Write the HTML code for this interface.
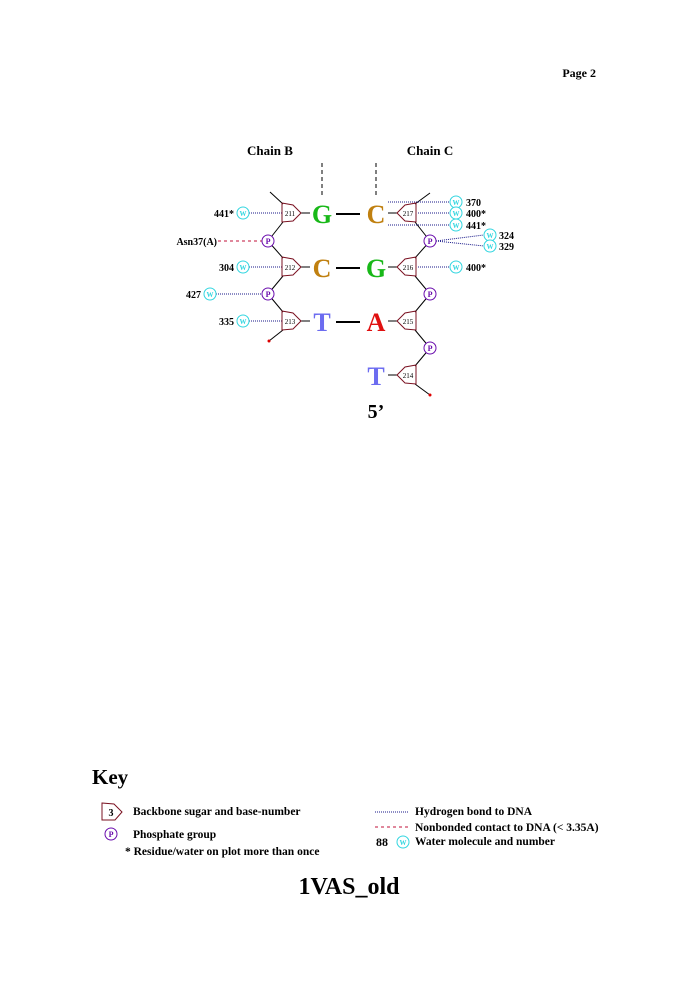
<!DOCTYPE html>
<html><head><meta charset="utf-8"><style>
body{margin:0;background:#fff;}
svg{display:block;font-family:"Liberation Serif",serif;font-weight:bold;}
</style></head><body>
<svg width="694" height="982" viewBox="0 0 694 982" xmlns="http://www.w3.org/2000/svg">
<defs>
<g id="pr"><polygon points="-8,-10 3,-8 11,0 3,8 -8,9" fill="none" stroke="#7a1020" stroke-width="1"/></g>
<g id="pl"><polygon points="8,-10 -3,-8 -11,0 -3,8 8,9" fill="none" stroke="#7a1020" stroke-width="1"/></g>
<g id="ph"><circle r="6" fill="#fff" stroke="#6a0dad" stroke-width="1"/><text y="3" font-size="8" text-anchor="middle" fill="#6a0dad">P</text></g>
<g id="w"><circle r="6" fill="#fff" stroke="#33d6e0" stroke-width="1"/><text y="3" font-size="7" text-anchor="middle" fill="#33d6e0">W</text></g>
</defs>
<text x="596" y="77" font-size="12" text-anchor="end">Page 2</text>
<text x="270" y="155" font-size="13" text-anchor="middle">Chain B</text>
<text x="430" y="155" font-size="13" text-anchor="middle">Chain C</text>
<g stroke="#000" stroke-dasharray="4,3"><line x1="322" y1="163" x2="322" y2="195"/><line x1="376" y1="163" x2="376" y2="195"/></g>
<g stroke="#000" stroke-width="1" fill="none">
<line x1="270" y1="192" x2="283" y2="204"/>
<line x1="283" y1="222" x2="268" y2="241"/><line x1="268" y1="241" x2="283" y2="258"/>
<line x1="283" y1="276" x2="268" y2="294"/><line x1="268" y1="294" x2="283" y2="312"/>
<line x1="283" y1="330" x2="269" y2="341"/>
<line x1="430" y1="193" x2="415" y2="204"/>
<line x1="415" y1="222" x2="430" y2="241"/><line x1="430" y1="241" x2="415" y2="258"/>
<line x1="415" y1="276" x2="430" y2="294"/><line x1="430" y1="294" x2="415" y2="312"/>
<line x1="415" y1="330" x2="430" y2="348"/><line x1="430" y1="348" x2="415" y2="366"/>
<line x1="415" y1="384" x2="430" y2="395"/>
<line x1="301" y1="213" x2="310" y2="213"/><line x1="301" y1="267" x2="310" y2="267"/><line x1="301" y1="321" x2="310" y2="321"/>
<line x1="397" y1="213" x2="388" y2="213"/><line x1="397" y1="267" x2="388" y2="267"/><line x1="397" y1="321" x2="388" y2="321"/><line x1="397" y1="375" x2="388" y2="375"/>
</g>
<g stroke="#000" stroke-width="2"><line x1="336" y1="214" x2="360" y2="214"/><line x1="336" y1="268" x2="360" y2="268"/><line x1="336" y1="322" x2="360" y2="322"/></g>
<circle cx="269" cy="341" r="1.5" fill="#d00"/><circle cx="430" cy="395" r="1.5" fill="#d00"/>
<g stroke="#1a1a8a" stroke-dasharray="1,1" stroke-width="1">
<line x1="249" y1="213" x2="282" y2="213"/><line x1="249" y1="267" x2="282" y2="267"/>
<line x1="216" y1="294" x2="262" y2="294"/><line x1="249" y1="321" x2="282" y2="321"/>
<line x1="388" y1="202" x2="450" y2="202"/><line x1="418" y1="213" x2="450" y2="213"/><line x1="388" y1="225" x2="450" y2="225"/>
<line x1="436" y1="241" x2="484" y2="235"/><line x1="436" y1="241" x2="484" y2="246"/>
<line x1="418" y1="267" x2="450" y2="267"/>
</g>
<line x1="218" y1="241" x2="262" y2="241" stroke="#c0103a" stroke-dasharray="3,3"/>
<g font-size="7" text-anchor="middle" font-weight="normal">
<use href="#pr" x="290" y="213"/><text x="290" y="216">211</text>
<use href="#pr" x="290" y="267"/><text x="290" y="270">212</text>
<use href="#pr" x="290" y="321"/><text x="290" y="324">213</text>
<use href="#pl" x="408" y="213"/><text x="408" y="216">217</text>
<use href="#pl" x="408" y="267"/><text x="408" y="270">216</text>
<use href="#pl" x="408" y="321"/><text x="408" y="324">215</text>
<use href="#pl" x="408" y="375"/><text x="408" y="378">214</text>
</g>
<use href="#ph" x="268" y="241"/><use href="#ph" x="268" y="294"/>
<use href="#ph" x="430" y="241"/><use href="#ph" x="430" y="294"/><use href="#ph" x="430" y="348"/>
<use href="#w" x="243" y="213"/><use href="#w" x="243" y="267"/><use href="#w" x="210" y="294"/><use href="#w" x="243" y="321"/>
<use href="#w" x="456" y="202"/><use href="#w" x="456" y="213"/><use href="#w" x="456" y="225"/>
<use href="#w" x="490" y="235"/><use href="#w" x="490" y="246"/><use href="#w" x="456" y="267"/>
<g font-size="26" text-anchor="middle">
<text x="322" y="223" fill="#18b818">G</text><text x="376" y="223" fill="#c08010">C</text>
<text x="322" y="277" fill="#c08010">C</text><text x="376" y="277" fill="#18b818">G</text>
<text x="322" y="331" fill="#6c6cf0">T</text><text x="376" y="331" fill="#e01010">A</text>
<text x="376" y="385" fill="#6c6cf0">T</text>
</g>
<text x="376" y="418" font-size="20" text-anchor="middle">5’</text>
<g font-size="10">
<text x="234" y="217" text-anchor="end">441*</text>
<text x="234" y="271" text-anchor="end">304</text>
<text x="201" y="298" text-anchor="end">427</text>
<text x="234" y="325" text-anchor="end">335</text>
<text x="217" y="245" text-anchor="end">Asn37(A)</text>
<text x="466" y="206">370</text><text x="466" y="217">400*</text><text x="466" y="229">441*</text>
<text x="499" y="239">324</text><text x="499" y="250">329</text><text x="466" y="271">400*</text>
</g>
<text x="92" y="784" font-size="21">Key</text>
<polygon points="102,803 114,804 122,812 115,820 102,820" fill="none" stroke="#7a1020"/>
<text x="111" y="816" font-size="10" text-anchor="middle">3</text>
<use href="#ph" x="111" y="834"/>
<g font-size="11.5">
<text x="133" y="815">Backbone sugar and base-number</text>
<text x="133" y="838">Phosphate group</text>
<text x="125" y="855">* Residue/water on plot more than once</text>
<text x="415" y="815">Hydrogen bond to DNA</text>
<text x="415" y="831">Nonbonded contact to DNA (&lt; 3.35A)</text>
<text x="415" y="845">Water molecule and number</text>
<text x="376" y="846" font-size="12">88</text>
</g>
<use href="#w" x="403" y="842"/>
<line x1="375" y1="812" x2="408" y2="812" stroke="#1a1a8a" stroke-dasharray="1,1"/>
<line x1="375" y1="827" x2="408" y2="827" stroke="#c0103a" stroke-dasharray="3,3"/>
<text x="349" y="894" font-size="24" text-anchor="middle">1VAS_old</text>
</svg>
</body></html>
